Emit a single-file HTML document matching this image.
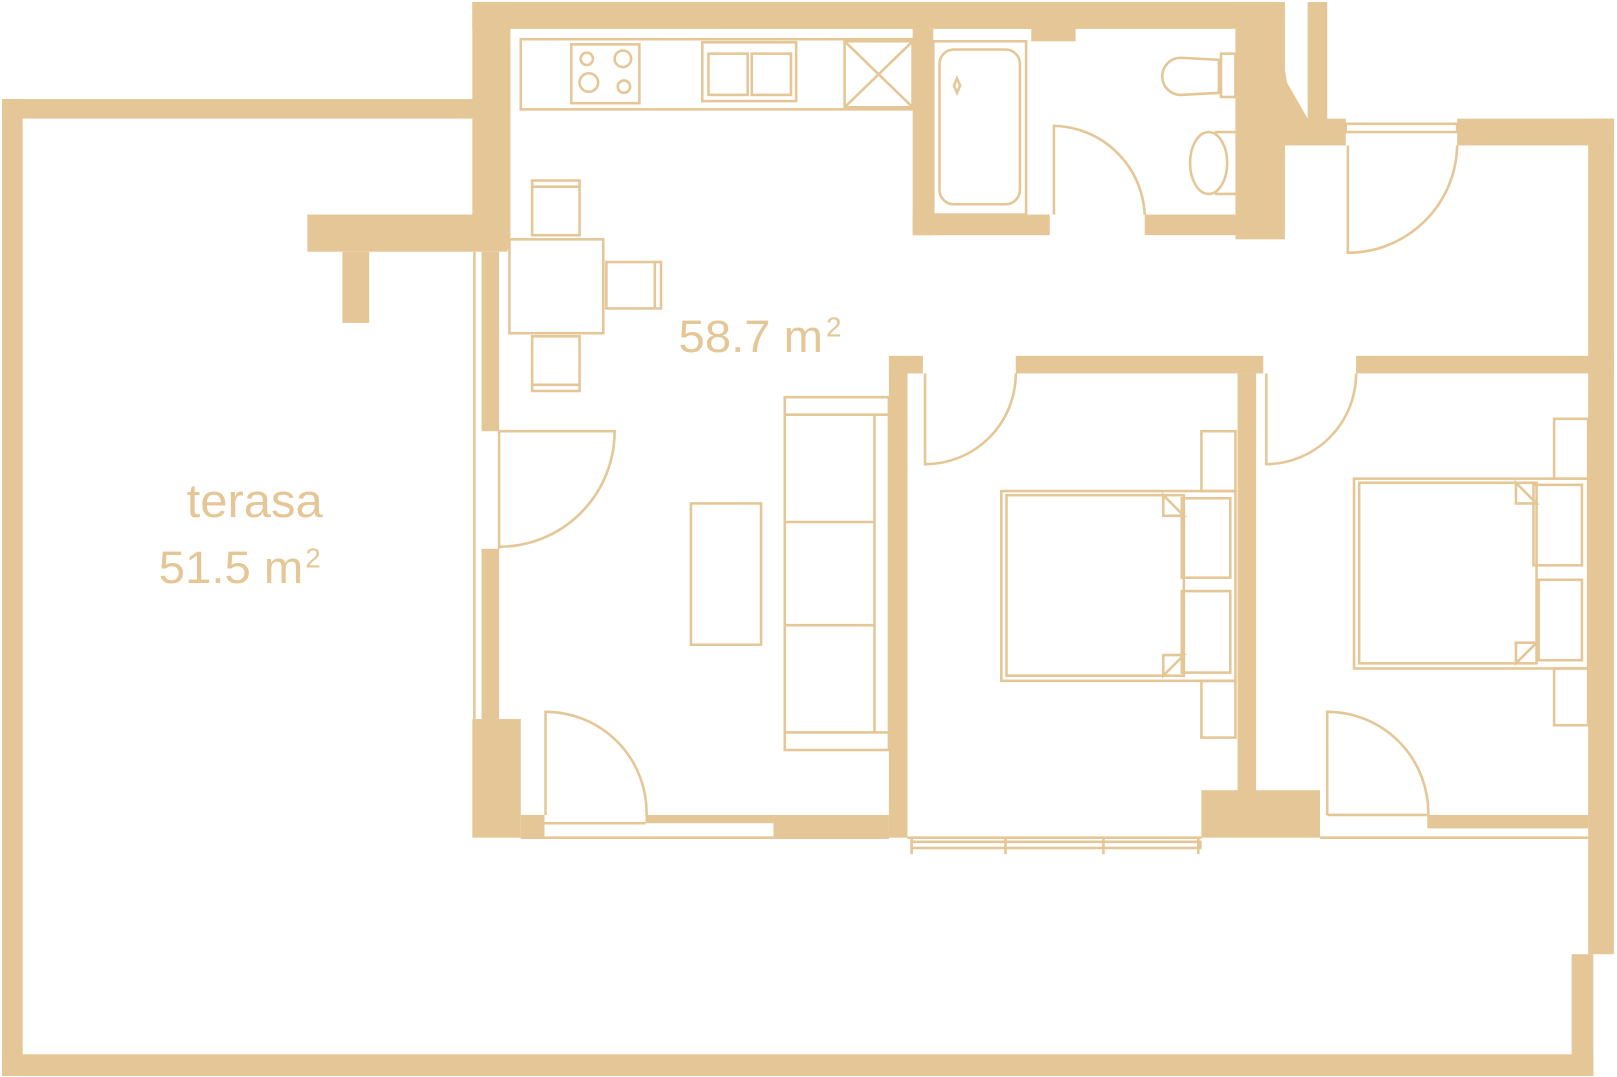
<!DOCTYPE html>
<html><head><meta charset="utf-8"><style>
html,body{margin:0;padding:0;background:#fff;width:1617px;height:1077px;overflow:hidden}
svg{display:block}
</style></head><body>
<svg width="1617" height="1077" viewBox="0 0 1568 1044" preserveAspectRatio="none" xmlns="http://www.w3.org/2000/svg">
<g fill="#e5c797">
<rect x="2" y="96" width="20" height="947"/>
<rect x="2" y="96" width="458" height="19"/>
<rect x="2" y="1022" width="1543" height="21"/>
<rect x="1524" y="925" width="21" height="118"/>
<rect x="458" y="2" width="37" height="240"/>
<rect x="458" y="2" width="742" height="26"/>
<rect x="700" y="20" width="343" height="8"/>
<rect x="1000" y="20" width="43" height="20"/>
<rect x="298" y="208" width="194" height="36"/>
<rect x="332" y="244" width="26" height="69"/>
<rect x="467" y="244" width="17" height="174"/>
<rect x="467" y="532" width="17" height="165"/>
<rect x="458" y="697" width="47" height="115"/>
<rect x="505" y="790" width="23" height="22"/>
<rect x="626" y="790" width="124" height="8"/>
<rect x="750" y="790" width="112" height="22"/>
<rect x="862" y="345" width="18" height="467"/>
<rect x="862" y="345" width="33" height="17"/>
<rect x="985" y="345" width="240" height="17"/>
<rect x="1315" y="345" width="250" height="17"/>
<rect x="1200" y="362" width="18" height="408"/>
<rect x="1165" y="766" width="115" height="46"/>
<rect x="1384" y="790" width="156" height="13"/>
<rect x="885" y="28" width="20" height="200"/>
<rect x="885" y="208" width="133" height="20"/>
<rect x="1110" y="208" width="90" height="20"/>
<rect x="1198" y="2" width="48" height="230"/>
<polygon points="1198,2 1235,2 1248,80 1268,115 1246,141 1198,141"/>
<rect x="1268" y="2" width="19" height="120"/>
<rect x="1246" y="115" width="59" height="26"/>
<rect x="1413" y="115" width="152" height="26"/>
<rect x="1540" y="115" width="25" height="810"/>
</g>
<g fill="none" stroke="#e5c797" stroke-width="2.5">
<rect x="505" y="38" width="380" height="68"/>
<rect x="554" y="43" width="66" height="57"/>
<circle cx="569" cy="57" r="6"/><circle cx="604" cy="57" r="8"/>
<circle cx="571" cy="80" r="9"/><circle cx="605" cy="84" r="6"/>
<rect x="681" y="41" width="91" height="57"/>
<rect x="687" y="52" width="38" height="40"/><rect x="729" y="52" width="38" height="40"/>
<rect x="819" y="40" width="66" height="64"/>
<path d="M819 40 L885 104 M885 40 L819 104"/>
<rect x="494" y="232" width="91" height="91"/>
<rect x="516" y="175" width="46" height="53"/><line x1="516" y1="181" x2="562" y2="181"/>
<rect x="516" y="326" width="46" height="53"/><line x1="516" y1="373" x2="562" y2="373"/>
<rect x="588" y="254" width="53" height="45"/><line x1="635" y1="254" x2="635" y2="299"/>
<rect x="670" y="488" width="68" height="137"/>
<rect x="761" y="385" width="101" height="342"/>
<line x1="761" y1="402" x2="862" y2="402"/><line x1="761" y1="710" x2="862" y2="710"/>
<line x1="848" y1="402" x2="848" y2="710"/>
<line x1="761" y1="506" x2="848" y2="506"/><line x1="761" y1="606" x2="848" y2="606"/>
<line x1="460" y1="244" x2="460" y2="697"/>
<path d="M484 418 L484 532 M484 418 L596 418 A112 112 0 0 1 484 530"/>
<path d="M529 790 L529 690 A98 98 0 0 1 627 790"/>
<line x1="505" y1="812" x2="862" y2="812"/>
<line x1="528" y1="798" x2="626" y2="798"/>
<line x1="880" y1="812" x2="1165" y2="812"/>
<rect x="884" y="816" width="280" height="6"/>
<path d="M884 812 v16 M975 812 v16 M1070 812 v16 M1162 812 v16"/>
<line x1="1280" y1="812" x2="1540" y2="812"/>
<line x1="1287" y1="790" x2="1384" y2="790"/>
<rect x="905" y="40" width="90" height="168"/>
<rect x="911" y="48" width="78" height="150" rx="14"/>
<path d="M928 76 l3 7 -3 7 -3 -7z"/>
<path d="M1022 208 L1022 122 A90 90 0 0 1 1110 208"/>
<path d="M1145 56 L1182 58 L1182 90 L1145 92 A18 18 0 0 1 1145 56z"/>
<rect x="1184" y="52" width="14" height="42"/>
<ellipse cx="1172" cy="158" rx="18" ry="30"/>
<path d="M1178 128 L1198 128 M1178 188 L1198 188"/>
<path d="M1307 141 L1307 245 A106 106 0 0 0 1413 141"/>
<rect x="1305" y="120" width="108" height="8"/>
<path d="M897 362 L897 450 A88 88 0 0 0 985 362"/>
<path d="M1228 362 L1228 450 A88 88 0 0 0 1315 362"/>
<path d="M1287 790 L1287 690 A98 98 0 0 1 1385 790"/>
<rect x="971" y="476" width="227" height="184"/>
<rect x="976" y="480" width="172" height="175"/>
<rect x="1146" y="483" width="47" height="77"/>
<rect x="1146" y="573" width="47" height="79"/>
<rect x="1165" y="418" width="33" height="58"/>
<rect x="1165" y="660" width="33" height="55"/>
<path d="M1128 480 L1148 500 L1128 500z M1128 655 L1148 635 L1128 635z"/>
<rect x="1313" y="464" width="227" height="184"/>
<rect x="1318" y="468" width="172" height="175"/>
<rect x="1487" y="470" width="47" height="78"/>
<rect x="1492" y="562" width="42" height="78"/>
<rect x="1507" y="406" width="33" height="58"/>
<rect x="1507" y="648" width="33" height="55"/>
<path d="M1470 468 L1490 488 L1470 488z M1470 643 L1490 623 L1470 623z"/>
</g>
<g fill="#e5c797" font-family="Liberation Sans, sans-serif">
<text x="658" y="341" font-size="44" textLength="140" lengthAdjust="spacingAndGlyphs">58.7 m</text>
<text x="801" y="326" font-size="27">2</text>
<text x="181" y="501" font-size="46" textLength="132" lengthAdjust="spacingAndGlyphs">terasa</text>
<text x="154" y="565" font-size="44" textLength="140" lengthAdjust="spacingAndGlyphs">51.5 m</text>
<text x="296" y="550" font-size="27">2</text>
</g>
</svg>
</body></html>
